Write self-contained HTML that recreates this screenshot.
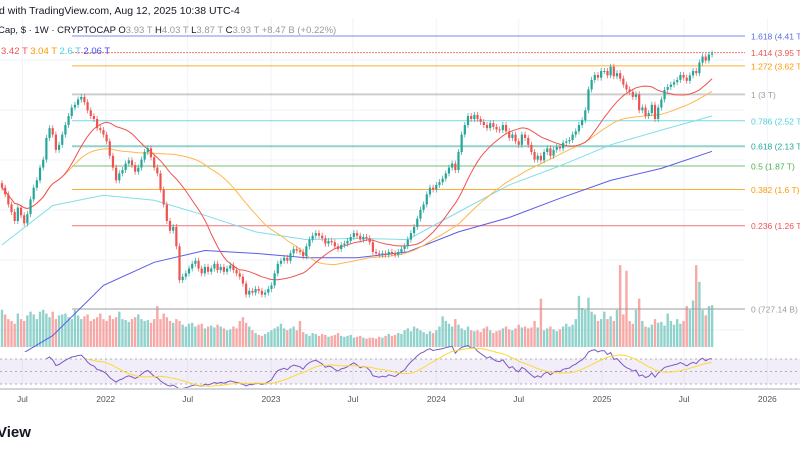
<!DOCTYPE html>
<html><head><meta charset="utf-8">
<style>
html,body{margin:0;padding:0;background:#fff;width:800px;height:450px;overflow:hidden;font-family:"Liberation Sans",sans-serif}
svg{position:absolute;left:0;top:0}
</style></head>
<body>
<svg id="chart" width="800" height="450"></svg>
<script>
const closes=[1.62,1.55,1.45,1.38,1.30,1.42,1.35,1.28,1.36,1.50,
1.62,1.70,1.85,1.95,2.25,2.40,2.30,2.08,2.15,2.30,
2.45,2.60,2.75,2.80,2.90,2.95,2.85,2.70,2.60,2.55,
2.40,2.37,2.30,2.20,2.00,1.85,1.70,1.78,1.82,1.90,
1.94,1.88,1.80,1.85,1.95,2.05,2.10,1.98,1.85,1.78,
1.60,1.45,1.30,1.22,1.25,1.10,0.88,0.90,0.92,0.95,
0.98,1.00,0.95,0.92,0.96,0.93,0.95,0.98,0.94,0.96,
0.93,0.95,0.97,0.94,0.92,0.90,0.86,0.80,0.82,0.81,
0.83,0.82,0.80,0.81,0.83,0.85,0.92,0.98,1.00,1.02,
1.00,1.05,1.08,1.07,1.06,1.03,1.10,1.15,1.18,1.20,
1.18,1.16,1.12,1.14,1.13,1.10,1.08,1.11,1.12,1.14,
1.17,1.20,1.18,1.15,1.17,1.16,1.13,1.06,1.05,1.04,
1.05,1.04,1.06,1.05,1.04,1.06,1.08,1.10,1.15,1.20,
1.25,1.32,1.40,1.45,1.55,1.62,1.60,1.65,1.68,1.72,
1.78,1.85,1.90,1.82,2.05,2.30,2.45,2.60,2.55,2.62,
2.55,2.50,2.45,2.40,2.48,2.42,2.38,2.37,2.45,2.35,
2.25,2.30,2.20,2.15,2.30,2.25,2.15,2.05,1.95,2.00,
1.94,2.05,2.10,2.00,2.08,2.12,2.10,2.18,2.20,2.22,
2.30,2.35,2.45,2.53,2.70,3.10,3.30,3.41,3.35,3.50,
3.50,3.40,3.60,3.38,3.45,3.33,3.20,3.10,3.05,2.95,
3.00,2.70,2.75,2.60,2.65,2.80,2.55,2.75,2.90,3.09,
3.15,3.20,3.25,3.30,3.41,3.35,3.28,3.40,3.50,3.45,
3.70,3.85,3.75,3.90,3.93];
const volumes=[40,35,30,28,25,36,30,28,34,38,
35,30,38,40,36,32,38,30,34,35,
36,32,30,40,34,30,33,35,28,30,
32,36,30,28,34,30,32,38,30,29,
27,30,32,35,30,28,29,26,30,44,
30,36,32,28,26,30,28,24,22,25,
26,22,24,25,20,22,23,21,24,22,
20,18,19,22,20,28,32,26,22,18,
15,13,12,14,16,18,20,22,25,20,
18,20,22,18,28,16,14,12,15,14,
12,14,13,11,12,13,15,12,11,12,
13,10,11,12,10,9,10,10,9,11,
10,12,14,12,13,15,14,18,20,17,
22,20,18,16,14,17,15,18,22,33,
28,25,22,30,24,20,18,22,18,17,
18,16,20,22,18,15,17,18,20,22,
19,18,20,24,21,22,20,21,28,21,
52,18,20,22,19,17,19,22,25,22,
24,30,55,42,40,53,38,35,28,30,
38,30,33,28,40,88,35,82,28,25,
40,52,28,22,21,24,30,26,27,23,
36,28,24,30,25,28,44,40,50,88,
70,40,34,44,45];
// sampled every 16 weeks
const ma100=[1.11,1.44,1.54,1.49,1.35,1.21,1.15,1.16,1.15,1.38,1.65,1.87,2.15,2.37,2.60];
const ma200=[0.50,0.61,0.85,0.99,1.07,1.05,1.02,1.02,1.06,1.21,1.33,1.51,1.70,1.84,2.06];
const fibLevels=[1.618,1.414,1.272,1,0.786,0.618,0.5,0.382,0.236,0];
const fibValues=[4.41,3.95,3.62,3.0,2.52,2.13,1.87,1.6,1.26,0.72714];
const fibLabels=["1.618 (4.41 T)","1.414 (3.95 T)","1.272 (3.62 T)","1 (3 T)","0.786 (2.52 T)","0.618 (2.13 T)","0.5 (1.87 T)","0.382 (1.6 T)","0.236 (1.26 T)","0 (727.14 B)"];
const fibColors=["#5b6ee1","#ef5350","#ff9800","#9e9e9e","#4dd0e1","#26a69a","#4caf50","#ff9800","#ef5350","#9e9e9e"];
const timeLabels=["Jul","2022","Jul","2023","Jul","2024","Jul","2025","Jul","2026"];
const timeDates=["2021-07-01","2022-01-01","2022-07-01","2023-01-01","2023-07-01","2024-01-01","2024-07-01","2025-01-01","2025-07-01","2026-01-01"];

const NS="http://www.w3.org/2000/svg";
const svg=document.getElementById('chart');
const start=new Date("2021-05-17").getTime();
const WEEK=7*864e5;
function xIdx(i){return 2+i*3.17;}
function xDate(d){return xIdx((new Date(d).getTime()-start)/WEEK);}
const lnLo=Math.log(0.72714),lnHi=Math.log(4.41);
function yP(v){return 309-(Math.log(v)-lnLo)/(lnHi-lnLo)*273;}
function yV(v){return 347-v*0.93;}
function yR(r){return 371.5-(r-50)*0.625;}
function mk(tag,attrs,parent){const e=document.createElementNS(NS,tag);for(const k in attrs)e.setAttribute(k,attrs[k]);(parent||svg).appendChild(e);return e;}

// grid
const grid=mk('g',{});


timeDates.forEach(d=>{const x=xDate(d);mk('line',{x1:x,x2:x,y1:18,y2:388,stroke:'#f0f3fa','stroke-width':1},grid);});
[60,110,160,210,260,330].forEach(y=>mk('line',{x1:0,x2:745,y1:y,y2:y,stroke:'#f0f3fa'},grid));

// RSI pane
const rsiG=mk('g',{});


mk('rect',{x:0,y:yR(70),width:800,height:yR(30)-yR(70),fill:'#7e57c2','fill-opacity':0.1},rsiG);
[70,50,30].forEach(l=>mk('line',{x1:0,x2:800,y1:yR(l),y2:yR(l),stroke:'#999','stroke-dasharray':'2,3','stroke-width':0.8},rsiG));
const rsi=[];let ag=0,al=0;
for(let i=1;i<closes.length;i++){const ch=closes[i]-closes[i-1];const g=Math.max(ch,0),l=Math.max(-ch,0);
 if(i<=14){ag+=g/14;al+=l/14;}else{ag=(ag*13+g)/14;al=(al*13+l)/14;}
 if(i>=14)rsi[i]=al===0?100:100-100/(1+ag/al);}
let rp='',sp='';
for(let i=14;i<closes.length;i++){rp+=(rp?'L':'M')+xIdx(i)+','+yR(rsi[i]).toFixed(1);
 if(i>=27){let s=0;for(let k=i-13;k<=i;k++)s+=rsi[k];sp+=(sp?'L':'M')+xIdx(i)+','+yR(s/14).toFixed(1);}}
const rl=mk('path',{d:rp,fill:'none',stroke:'#7e57c2','stroke-width':1},rsiG);


const rs=mk('path',{d:sp,fill:'none',stroke:'#fdd835','stroke-width':1},rsiG);



// volume
const volG=mk('g',{});


volumes.forEach((v,i)=>{const up=i===0||closes[i]>=closes[i-1];
 const b=mk('rect',{x:xIdx(i)-1.2,y:yV(v),width:2.4,height:347-yV(v),fill:up?'#26a69a':'#ef5350','fill-opacity':0.5},volG);
 
 });

// fib lines
const fibG=mk('g',{});


fibValues.forEach((v,k)=>{const y=yP(v);const w=(fibLevels[k]===0.618||fibLevels[k]===1||fibLevels[k]===0)?2:1;
 const ln=mk('line',{x1:72,x2:745,y1:y,y2:y,stroke:fibColors[k],'stroke-width':w,'stroke-opacity':w===2?0.5:0.8,'stroke-dasharray':fibLevels[k]===1.414?'2,1':'none'},fibG);
 
 
 const t=mk('text',{x:751,y:y+3.5,fill:fibColors[k],'font-size':8.5},fibG);t.textContent=fibLabels[k];
 
 });

// MAs
const clip=mk('clipPath',{id:'mc'});mk('rect',{x:0,y:0,width:745,height:352},clip);
function maLine(arr,color,name){let d='';arr.forEach((v,k)=>{d+=(d?'L':'M')+xIdx(k*16)+','+yP(v).toFixed(1);});
 const p=mk('path',{d:d,fill:'none',stroke:color,'stroke-width':1,'clip-path':'url(#mc)'});
 
 }
function smaLine(n,color,name){let d='';for(let i=0;i<closes.length;i++){const a=Math.max(0,i-n+1);let s=0;for(let k=a;k<=i;k++)s+=closes[k];
 d+=(d?'L':'M')+xIdx(i)+','+yP(s/(i-a+1)).toFixed(1);}
 const p=mk('path',{d:d,fill:'none',stroke:color,'stroke-width':1});
 
 }
maLine(ma200,'#5c5ce6','ma-200-line');
maLine(ma100,'#80deea','ma-100-line');
smaLine(50,'#ffb74d','ma-50-line');
smaLine(20,'#ef5350','ma-20-line');

// candles
const cG=mk('g',{});


closes.forEach((c,i)=>{const o=i===0?c*1.03:closes[i-1];const up=c>=o;const col=up?'#26a69a':'#ef5350';
 const yt=yP(Math.max(o,c)),yb=yP(Math.min(o,c));const x=xIdx(i);
 mk('line',{x1:x,x2:x,y1:yt-3,y2:yb+3,stroke:col,'stroke-width':0.7},cG);
 const r=mk('rect',{x:x-1.1,y:yt,width:2.2,height:Math.max(1,yb-yt),fill:col},cG);
 
 });

// time axis
mk('line',{x1:0,x2:800,y1:389,y2:389,stroke:'#d1d4dc','stroke-width':2});
timeLabels.forEach((l,k)=>{const t=mk('text',{x:xDate(timeDates[k]),y:402,'text-anchor':'middle','font-size':8.5,fill:'#555'});t.textContent=l;
 
 });
</script>
<svg width="800" height="450" style="pointer-events:none">
<text x="-1" y="14" font-size="10.5" fill="#131722">d with TradingView.com, Aug 12, 2025 10:38 UTC-4</text>
<text x="-2" y="33" font-size="9.5" fill="#131722">Cap, $ · 1W · CRYPTOCAP  O<tspan fill="#999">3.93 T</tspan>  H<tspan fill="#999">4.03 T</tspan>  L<tspan fill="#999">3.87 T</tspan>  C<tspan fill="#999">3.93 T  +8.47 B (+0.22%)</tspan></text>
<text x="1" y="54" font-size="9.5"><tspan fill="#ef5350">3.42 T</tspan> <tspan fill="#ff9800">3.04 T</tspan> <tspan fill="#4dd0e1">2.6 T</tspan> <tspan fill="#3f51f5">2.06 T</tspan></text>
<text x="-3" y="437" font-size="15" font-weight="bold" fill="#131722">View</text>
</svg>
</body></html>
